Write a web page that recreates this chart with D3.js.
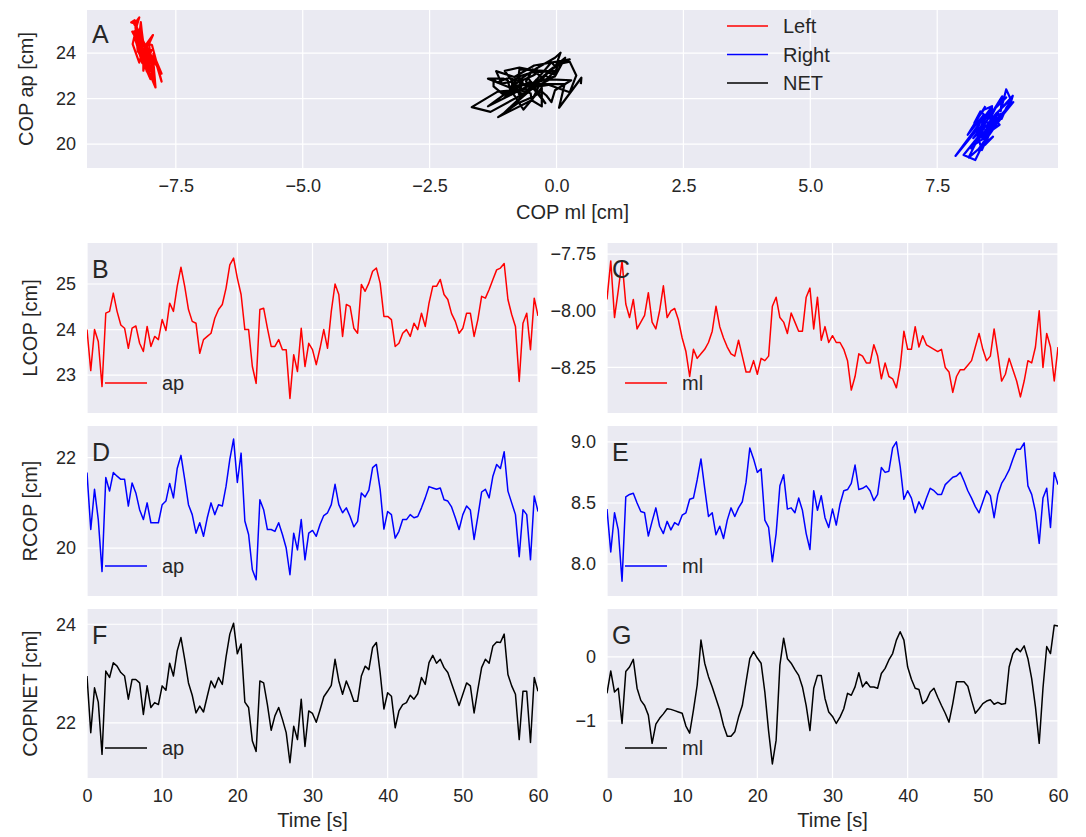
<!DOCTYPE html>
<html>
<head>
<meta charset="utf-8">
<script src="https://cdn.jsdelivr.net/npm/d3@7"></script>
<style>
  body { margin: 0; background: #fff; }
  text { font-family: "Liberation Sans", Arial, sans-serif; fill: #262626; }
</style>
</head>
<body>
<svg id="chart"></svg>
<script>
// sampling step of the traces [s]
const tStep = 0.5;

// left foot COP, antero-posterior [cm]
const lcopAp = [24.0, 23.1, 24.0, 23.74, 22.75, 24.36, 24.4, 24.8, 24.4, 24.1,
  24.03, 23.59, 24.03, 24.08, 23.7, 23.52, 24.07, 23.63, 23.85, 23.78,
  24.22, 23.98, 24.58, 24.4, 24.95, 25.37, 24.95, 24.44, 24.18, 24.14,
  23.48, 23.78, 23.85, 23.92, 24.25, 24.44, 24.55, 24.91, 25.42, 25.57,
  25.13, 24.77, 24.0, 24.0, 23.19, 22.82, 24.44, 24.47, 24.03, 23.63,
  23.63, 23.78, 23.56, 23.56, 22.49, 23.45, 23.08, 24.03, 23.19, 23.7,
  23.56, 23.23, 23.59, 24.0, 23.59, 24.4, 25.0, 24.77, 23.85, 24.55,
  24.51, 24.03, 23.92, 24.99, 24.84, 25.02, 25.28, 25.35, 25.02, 24.29,
  24.29, 24.22, 23.63, 23.7, 23.92, 24.0, 23.85, 24.14, 24.0, 24.36,
  24.07, 24.58, 24.95, 24.95, 25.1, 24.77, 24.66, 24.35, 24.18, 23.92,
  24.03, 24.36, 24.36, 23.85, 24.22, 24.73, 24.69, 24.88, 25.1, 25.31,
  25.35, 25.45, 24.66, 24.33, 24.07, 22.86, 24.14, 24.36, 23.56, 24.69, 24.3];

// left foot COP, medio-lateral [cm]
const lcopMl = [-7.95, -7.78, -8.03, -7.91, -7.78, -7.97, -8.03, -7.95, -8.08, -8.05,
  -8.02, -7.92, -8.05, -8.08, -8.0, -7.89, -8.03, -8.0, -7.99, -8.04,
  -8.12, -8.18, -8.29, -8.17, -8.21, -8.19, -8.17, -8.14, -8.09, -7.98,
  -8.07, -8.12, -8.16, -8.19, -8.2, -8.13, -8.2, -8.27, -8.27, -8.22,
  -8.28, -8.21, -8.22, -8.2, -7.98, -7.94, -8.03, -8.05, -8.1, -8.01,
  -8.05, -8.09, -8.09, -7.94, -7.9, -8.08, -7.94, -8.13, -8.07, -8.14,
  -8.11, -8.14, -8.14, -8.17, -8.22, -8.35, -8.29, -8.19, -8.2, -8.23,
  -8.23, -8.15, -8.2, -8.3, -8.23, -8.29, -8.3, -8.34, -8.25, -8.09,
  -8.17, -8.17, -8.07, -8.16, -8.11, -8.15, -8.16, -8.17, -8.18, -8.17,
  -8.25, -8.27, -8.36, -8.29, -8.26, -8.26, -8.24, -8.22, -8.16, -8.1,
  -8.17, -8.22, -8.2, -8.08, -8.19, -8.31, -8.28, -8.21, -8.26, -8.31,
  -8.38, -8.31, -8.22, -8.23, -8.16, -8.0, -8.25, -8.1, -8.16, -8.31, -8.16];

// right foot COP, antero-posterior [cm]
const rcopAp = [21.67, 20.41, 21.3, 20.63, 19.48, 21.56, 21.26, 21.67, 21.59, 21.52,
  21.52, 20.93, 21.44, 21.22, 20.85, 20.63, 21.0, 20.56, 20.56, 20.56,
  20.96, 21.04, 21.43, 21.11, 21.76, 22.05, 21.52, 20.96, 20.74, 20.33,
  20.56, 20.26, 20.67, 21.0, 20.74, 20.96, 20.93, 21.37, 21.96, 22.41,
  21.45, 22.1, 20.6, 20.3, 19.52, 19.3, 21.07, 20.85, 20.41, 20.41,
  20.37, 20.56, 20.3, 20.0, 19.41, 20.33, 19.96, 20.63, 19.74, 20.33,
  20.39, 20.26, 20.52, 20.72, 20.78, 20.96, 21.41, 20.96, 20.78, 20.89,
  20.7, 20.47, 20.59, 21.22, 21.13, 21.28, 21.78, 21.85, 21.3, 20.42,
  20.81, 20.74, 20.22, 20.37, 20.63, 20.63, 20.74, 20.67, 20.7, 20.89,
  21.11, 21.36, 21.33, 21.3, 21.33, 21.07, 21.04, 20.91, 20.67, 20.41,
  20.74, 20.93, 20.84, 20.19, 20.7, 21.24, 21.3, 21.11, 21.59, 21.85,
  21.76, 22.13, 21.26, 21.0, 20.74, 19.81, 20.85, 20.74, 19.74, 21.15, 20.81];

// right foot COP, medio-lateral [cm]
const rcopMl = [8.45, 8.1, 8.42, 8.28, 7.86, 8.55, 8.57, 8.58, 8.5, 8.43,
  8.42, 8.23, 8.35, 8.46, 8.31, 8.25, 8.35, 8.28, 8.34, 8.32,
  8.4, 8.42, 8.53, 8.54, 8.69, 8.86, 8.62, 8.39, 8.42, 8.24,
  8.31, 8.21, 8.36, 8.46, 8.39, 8.46, 8.51, 8.67, 8.95, 8.86,
  8.75, 8.78, 8.36, 8.3, 8.02, 8.25, 8.64, 8.73, 8.45, 8.46,
  8.42, 8.54, 8.44, 8.25, 8.12, 8.6, 8.44, 8.56, 8.38, 8.3,
  8.45, 8.32, 8.49, 8.6, 8.61, 8.66, 8.81, 8.61, 8.62, 8.64,
  8.6, 8.52, 8.57, 8.79, 8.75, 8.76, 8.95, 9.0, 8.8, 8.53,
  8.6, 8.54, 8.42, 8.51, 8.45, 8.54, 8.62, 8.6, 8.57, 8.57,
  8.65, 8.68, 8.71, 8.72, 8.75, 8.68, 8.6, 8.54, 8.47, 8.42,
  8.51, 8.6, 8.56, 8.38, 8.57, 8.66, 8.71, 8.77, 8.86, 8.94,
  8.94, 8.99, 8.64, 8.57, 8.43, 8.17, 8.54, 8.62, 8.3, 8.75, 8.65];

// net COP, antero-posterior [cm]
const netAp = [22.95, 21.8, 22.71, 22.42, 21.36, 23.05, 22.92, 23.22, 23.15, 23.02,
  22.95, 22.48, 22.88, 22.88, 22.81, 22.17, 22.75, 22.31, 22.41, 22.37,
  22.75, 22.66, 23.21, 22.95, 23.46, 23.73, 23.29, 22.81, 22.56, 22.2,
  22.34, 22.22, 22.54, 22.85, 22.71, 22.92, 22.78, 23.34, 23.8, 24.02,
  23.4, 23.6, 22.42, 22.31, 21.63, 21.42, 22.85, 22.81, 22.37, 21.85,
  22.14, 22.31, 22.07, 21.8, 21.19, 21.93, 21.66, 22.48, 21.52, 22.24,
  22.19, 22.01, 22.26, 22.53, 22.64, 22.76, 23.29, 22.85, 22.58, 22.85,
  22.66, 22.44, 22.44, 22.95, 23.15, 23.08, 23.53, 23.63, 23.02, 22.28,
  22.61, 22.54, 21.9, 22.24, 22.37, 22.41, 22.56, 22.48, 22.59, 22.92,
  22.78, 23.22, 23.37, 23.21, 23.29, 23.12, 23.02, 22.8, 22.58, 22.35,
  22.58, 22.81, 22.75, 22.2, 22.68, 23.12, 23.29, 23.21, 23.56, 23.64,
  23.63, 23.8, 22.98, 22.75, 22.58, 21.66, 22.64, 22.64, 21.6, 22.92, 22.64];

// net COP, medio-lateral [cm]
const netMl = [-0.57, -0.22, -0.55, -0.49, -1.04, -0.23, -0.16, -0.04, -0.49, -0.68,
  -0.76, -0.91, -1.35, -1.05, -0.96, -0.89, -0.81, -0.82, -0.84, -0.86,
  -0.88, -1.08, -1.19, -0.83, -0.44, 0.26, -0.1, -0.31, -0.47, -0.65,
  -0.83, -1.07, -1.24, -1.24, -1.17, -0.94, -0.76, -0.39, -0.03, 0.08,
  -0.02, -0.1, -0.55, -1.16, -1.67, -1.3, -0.13, 0.29, -0.03, -0.1,
  -0.2, -0.29, -0.47, -0.76, -1.15, -0.49, -0.29, -0.29, -0.65, -0.86,
  -0.93, -1.04, -0.94, -0.81, -0.57, -0.6, -0.47, -0.25, -0.47, -0.39,
  -0.47, -0.47, -0.49, -0.26, -0.18, -0.05, 0.05, 0.26, 0.39, 0.26,
  -0.16, -0.35, -0.49, -0.51, -0.73, -0.68, -0.55, -0.49, -0.63, -0.76,
  -0.88, -1.02, -0.73, -0.39, -0.39, -0.39, -0.46, -0.68, -0.88, -0.81,
  -0.73, -0.69, -0.67, -0.74, -0.71, -0.74, -0.73, -0.16, 0.05, 0.13,
  0.08, 0.17, -0.03, -0.34, -0.78, -1.35, -0.49, 0.16, 0.05, 0.49, 0.48];

const timeTicks = [0, 10, 20, 30, 40, 50, 60];
const mlTicks = [-7.5, -5.0, -2.5, 0.0, 2.5, 5.0, 7.5];
const apTicks = [20, 22, 24];

const width = 1086,
  height = 837,
  bg = '#eaeaf2',
  tickSize = 18,
  labelSize = 20;

const svg = d3.select('#chart')
  .attr('width', width)
  .attr('height', height);

let clipId = 0;

// one seaborn-like axes box
function drawPanel(p) {
  const x = d3.scaleLinear().domain(p.xDomain).range([p.left, p.right]);
  const y = d3.scaleLinear().domain(p.yDomain).range([p.bottom, p.top]);
  const g = svg.append('g');

  g.append('rect')
    .attr('x', p.left)
    .attr('y', p.top)
    .attr('width', p.right - p.left)
    .attr('height', p.bottom - p.top)
    .attr('fill', bg);

  // grid lines
  g.selectAll('.vgrid')
    .data(p.xTicks)
    .enter().append('line')
    .attr('x1', d => x(d)).attr('x2', d => x(d))
    .attr('y1', p.top).attr('y2', p.bottom)
    .attr('stroke', '#fff').attr('stroke-width', 1.2);

  g.selectAll('.hgrid')
    .data(p.yTicks)
    .enter().append('line')
    .attr('x1', p.left).attr('x2', p.right)
    .attr('y1', d => y(d)).attr('y2', d => y(d))
    .attr('stroke', '#fff').attr('stroke-width', 1.2);

  // tick labels
  const yAxis = d3.axisLeft(y).tickValues(p.yTicks).tickSize(0).tickPadding(11)
    .tickFormat(d3.format(p.yFormat));
  const ya = g.append('g').attr('transform', `translate(${p.left},0)`).call(yAxis);
  ya.select('.domain').remove();
  ya.selectAll('text').attr('font-size', tickSize).attr('fill', '#262626')
    .attr('font-family', '"Liberation Sans", Arial, sans-serif');

  if (p.xLabels) {
    const xAxis = d3.axisBottom(x).tickValues(p.xTicks).tickSize(0).tickPadding(11)
      .tickFormat(d3.format(p.xFormat));
    const xa = g.append('g').attr('transform', `translate(0,${p.bottom})`).call(xAxis);
    xa.select('.domain').remove();
    xa.selectAll('text').attr('font-size', tickSize).attr('fill', '#262626')
      .attr('font-family', '"Liberation Sans", Arial, sans-serif');
  }

  const id = 'clip' + (clipId++);
  g.append('clipPath').attr('id', id)
    .append('rect')
    .attr('x', p.left).attr('y', p.top)
    .attr('width', p.right - p.left).attr('height', p.bottom - p.top);

  const line = d3.line()
    .x(d => x(d[0]))
    .y(d => y(d[1]));

  p.traces.forEach(tr => {
    g.append('path')
      .datum(tr.points)
      .attr('clip-path', `url(#${id})`)
      .attr('d', line)
      .attr('fill', 'none')
      .attr('stroke', tr.color)
      .attr('stroke-width', p.lineWidth)
      .attr('stroke-linejoin', 'round');
  });

  g.append('text')
    .attr('x', p.left + 5)
    .attr('y', p.top + p.letterDy)
    .attr('font-size', 25)
    .text(p.letter);

  return {x, y, g};
}

const timeSeries = vals => vals.map((v, i) => [i * tStep, v]);
const pairSeries = (xs, ys) => xs.map((v, i) => [v, ys[i]]);

// panel A: COP paths
drawPanel({
  left: 87, right: 1058, top: 10, bottom: 168,
  xDomain: [-9.25, 9.88], yDomain: [18.95, 25.9],
  xTicks: mlTicks, yTicks: apTicks, xFormat: '.1f', yFormat: 'd', xLabels: true,
  lineWidth: 2.2, letter: 'A', letterDy: 33,
  traces: [
    {points: pairSeries(lcopMl, lcopAp), color: '#ff0000'},
    {points: pairSeries(rcopMl, rcopAp), color: '#0000ff'},
    {points: pairSeries(netMl, netAp), color: '#000000'}
  ]
});

const legendA = [['Left', '#ff0000'], ['Right', '#0000ff'], ['NET', '#000000']];
const legA = svg.append('g').selectAll('g')
  .data(legendA)
  .enter().append('g');
legA.append('line')
  .attr('x1', 727).attr('x2', 768)
  .attr('y1', (d, i) => 26 + i * 28.5).attr('y2', (d, i) => 26 + i * 28.5)
  .attr('stroke', d => d[1]).attr('stroke-width', 1.6);
legA.append('text')
  .attr('x', 783)
  .attr('y', (d, i) => 33 + i * 28.5)
  .attr('font-size', labelSize)
  .text(d => d[0]);

svg.append('text')
  .attr('x', (87 + 1058) / 2).attr('y', 219)
  .attr('text-anchor', 'middle').attr('font-size', labelSize)
  .text('COP ml [cm]');

svg.append('text')
  .attr('transform', 'translate(33,89) rotate(-90)')
  .attr('text-anchor', 'middle').attr('font-size', labelSize)
  .text('COP ap [cm]');

// panels B-G: time series
const cols = [{left: 87, right: 538}, {left: 607, right: 1058}];
const rows = [{top: 243, bottom: 413}, {top: 426, bottom: 596}, {top: 609, bottom: 778}];

const panels = [
  {row: 0, col: 0, letter: 'B', vals: lcopAp, color: '#ff0000', yDomain: [22.17, 25.9], yTicks: [23, 24, 25], yFormat: 'd', leg: 'ap'},
  {row: 0, col: 1, letter: 'C', vals: lcopMl, color: '#ff0000', yDomain: [-8.451, -7.701], yTicks: [-8.25, -8.0, -7.75], yFormat: '.2f', leg: 'ml'},
  {row: 1, col: 0, letter: 'D', vals: rcopAp, color: '#0000ff', yDomain: [18.94, 22.7], yTicks: [20, 22], yFormat: 'd', leg: 'ap'},
  {row: 1, col: 1, letter: 'E', vals: rcopMl, color: '#0000ff', yDomain: [7.74, 9.129], yTicks: [8.0, 8.5, 9.0], yFormat: '.1f', leg: 'ml'},
  {row: 2, col: 0, letter: 'F', vals: netAp, color: '#000000', yDomain: [20.88, 24.31], yTicks: [22, 24], yFormat: 'd', leg: 'ap'},
  {row: 2, col: 1, letter: 'G', vals: netMl, color: '#000000', yDomain: [-1.89, 0.745], yTicks: [-1, 0], yFormat: 'd', leg: 'ml'}
];

panels.forEach(d => {
  const c = cols[d.col], r = rows[d.row];
  drawPanel({
    left: c.left, right: c.right, top: r.top, bottom: r.bottom,
    xDomain: [0, 60], yDomain: d.yDomain,
    xTicks: timeTicks, yTicks: d.yTicks, xFormat: 'd', yFormat: d.yFormat,
    xLabels: d.row === 2, lineWidth: 1.5, letter: d.letter, letterDy: 35,
    traces: [{points: timeSeries(d.vals), color: d.color}]
  });

  const ly = r.bottom - 30;
  svg.append('line')
    .attr('x1', c.left + 18).attr('x2', c.left + 60)
    .attr('y1', ly).attr('y2', ly)
    .attr('stroke', d.color).attr('stroke-width', 1.5);
  svg.append('text')
    .attr('x', c.left + 75).attr('y', ly + 7)
    .attr('font-size', labelSize)
    .text(d.leg);
});

const yLabels = ['LCOP [cm]', 'RCOP [cm]', 'COPNET [cm]'];
svg.selectAll('.ylab')
  .data(yLabels)
  .enter().append('text')
  .attr('transform', (d, i) => `translate(37,${(rows[i].top + rows[i].bottom) / 2}) rotate(-90)`)
  .attr('text-anchor', 'middle')
  .attr('font-size', labelSize)
  .text(d => d);

svg.selectAll('.xlab')
  .data(cols)
  .enter().append('text')
  .attr('x', d => (d.left + d.right) / 2)
  .attr('y', 827)
  .attr('text-anchor', 'middle')
  .attr('font-size', labelSize)
  .text('Time [s]');
</script>
</body>
</html>
